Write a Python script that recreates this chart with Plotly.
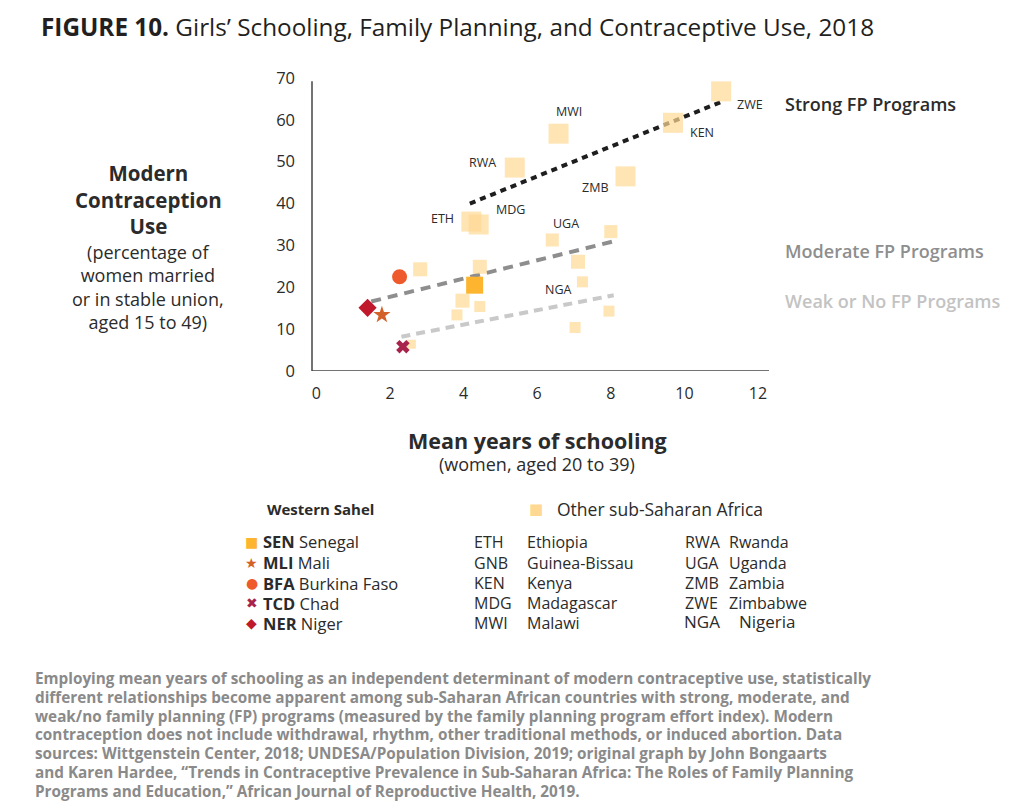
import plotly.graph_objects as go

# ---------------- data ----------------
other_codes = ["ZWE", "KEN", "MWI", "RWA", "ZMB", "ETH", "MDG", "UGA", "", "", "",
               "", "", "", "", "", "", "", ""]
other_x = [11.0, 9.69, 6.58, 5.39, 8.40, 4.21, 4.41, 6.41, 8.00, 2.82, 4.44,
           7.11, 7.23, 3.97, 4.44, 3.82, 7.95, 7.03, 2.58]
other_y = [66.8, 59.3, 56.7, 48.6, 46.5, 35.7, 35.0, 31.3, 33.3, 24.3, 24.9,
           26.1, 21.3, 16.8, 15.4, 13.4, 14.3, 10.4, 6.4]
other_size = [20, 20, 20, 20, 20, 20, 20, 13, 13, 14, 14,
              14, 11, 14, 11, 11, 11, 11, 9]

sahel_codes = ["SEN", "MLI", "BFA", "TCD", "NER"]
sahel_names = ["Senegal", "Mali", "Burkina Faso", "Chad", "Niger"]
sahel_x = [4.30, 1.78, 2.26, 2.35, 1.39]
sahel_y = [20.5, 13.4, 22.5, 5.8, 15.1]

# fitted lines (endpoints of each regression segment)
strong_x, strong_y = [4.17, 11.0], [40.0, 64.3]
moderate_x, moderate_y = [1.49, 8.04], [16.6, 30.9]
weak_x, weak_y = [2.31, 8.08], [8.2, 18.1]

# point labels
label_text = ["ZWE", "KEN", "MWI", "RWA", "ZMB", "MDG", "ETH", "UGA", "NGA"]
label_x = [11.79, 10.47, 6.86, 4.50, 7.57, 5.27, 3.44, 6.77, 6.57]
label_y = [63.7, 57.0, 61.9, 49.8, 43.8, 38.7, 36.4, 35.3, 19.5]

x_ticks = [0, 2, 4, 6, 8, 10, 12]
y_ticks = [0, 10, 20, 30, 40, 50, 60, 70]

key_col2 = [("ETH", "Ethiopia"), ("GNB", "Guinea-Bissau"), ("KEN", "Kenya"),
            ("MDG", "Madagascar"), ("MWI", "Malawi")]
key_col3 = [("RWA", "Rwanda"), ("UGA", "Uganda"), ("ZMB", "Zambia"),
            ("ZWE", "Zimbabwe"), ("NGA", "Nigeria")]

foot_lines = [
    "Employing mean years of schooling as an independent determinant of modern contraceptive use, statistically",
    "different relationships become apparent among sub-Saharan African countries with strong, moderate, and",
    "weak/no family planning (FP) programs (measured by the family planning program effort index). Modern",
    "contraception does not include withdrawal, rhythm, other traditional methods, or induced abortion. Data",
    "sources: Wittgenstein Center, 2018; UNDESA/Population Division, 2019; original graph by John Bongaarts",
    "and Karen Hardee, \u201cTrends in Contraceptive Prevalence in Sub-Saharan Africa: The Roles of Family Planning",
    "Programs and Education,\u201d African Journal of Reproductive Health, 2019.",
]

# ---------------- styles ----------------
FONT = "Open Sans"
DARK = "#2b2b2b"
C_OTHER = "#FFD994"
sahel_colors = ["#FDB52F", "#D2622A", "#EE5A2B", "#A8234B", "#C0192B"]
sahel_symbols = ["square", "star", "circle", "x", "diamond"]
sahel_sizes = [17, 13, 15, 12, 14]
sahel_glyphs = ["■", "★", "●", "✖", "◆"]

OFF = 8  # page offset of the figure (body margin)
W, H = 1016, 800
PL, PR = 312, 769.5          # page x of plot left/right
Y0, Y70 = 371, 371 - 70 * 4.19  # page y of value 0 / 70
PW, PH = PR - PL, Y0 - Y70


def px(x):
    return (x - PL) / PW


def py(y):
    return (Y0 - y) / PH


fig = go.Figure()

for xs, ys, col, dash in [(weak_x, weak_y, "#C9C9C9", "9px,6px"),
                          (moderate_x, moderate_y, "#8E8E8E", "10px,7px"),
                          (strong_x, strong_y, "#1E1E1E", "6px,5px")]:
    fig.add_trace(go.Scatter(x=xs, y=ys, mode="lines", showlegend=False,
                             line=dict(color=col, width=4, dash=dash),
                             hoverinfo="skip"))

fig.add_trace(go.Scatter(x=other_x, y=other_y, mode="markers", name="Other sub-Saharan Africa",
                         text=other_codes, showlegend=False,
                         marker=dict(symbol="square", color=C_OTHER, size=other_size,
                                     line=dict(width=0))))

for i in range(len(sahel_codes)):
    fig.add_trace(go.Scatter(x=[sahel_x[i]], y=[sahel_y[i]], mode="markers",
                             name=sahel_codes[i], showlegend=False,
                             marker=dict(symbol=sahel_symbols[i], color=sahel_colors[i],
                                         size=sahel_sizes[i], line=dict(width=0))))

ann = []
for t, x, y in zip(label_text, label_x, label_y):
    ann.append(dict(x=x, y=y, xref="x", yref="y", text=t, showarrow=False,
                    font=dict(family=FONT, size=12.5, color=DARK)))


def page_text(x, y, text, size, color=DARK, xanchor="left", yanchor="middle", weight=None,
              family=FONT, align="left"):
    f = dict(family=family, size=size, color=color)
    if weight:
        f["weight"] = weight
    ann.append(dict(x=px(x), y=py(y), xref="paper", yref="paper", xanchor=xanchor,
                    yanchor=yanchor, text=text, showarrow=False, align=align, font=f))


# title
page_text(39, 26, "<b>FIGURE 10.</b> Girls\u2019 Schooling, Family Planning, and Contraceptive Use, 2018",
          24.3, color="#231f20")

# y axis title
page_text(148, 199.5, "<b>Modern<br>Contraception<br>Use</b>", 20.5, xanchor="center", align="center")
page_text(148, 287, "(percentage of<br>women married<br>or in stable union,<br>aged 15 to 49)", 18,
          xanchor="center", align="center")

# x axis title
page_text(537.5, 440.5, "<b>Mean years of schooling</b>", 21.5, xanchor="center")
page_text(537.5, 464, "(women, aged 20 to 39)", 18, xanchor="center")

# line labels
for t, yy, col in [("Strong FP Programs", 103.3, "#2b2b2b"),
                   ("Moderate FP Programs", 250.7, "#8E8E8E"),
                   ("Weak or No FP Programs", 300.7, "#C3C3C3")]:
    page_text(784, yy, t, 18, color=col, weight=600)

# legend block
page_text(265, 509, "<b>Western Sahel</b>", 15)
page_text(536.7, 509, "■", 15, color=C_OTHER, xanchor="center", family="DejaVu Sans")
page_text(555.5, 509, "Other sub-Saharan Africa", 17.5)

rows = [541.7, 562.7, 583.3, 603.3, 623.3]
for i, yy in enumerate(rows):
    page_text(251.7, yy, sahel_glyphs[i], 14, color=sahel_colors[i], xanchor="center",
              family="DejaVu Sans")
    page_text(261, yy, "<b>" + sahel_codes[i] + "</b> " + sahel_names[i], 16.5)
    c, n = key_col2[i]
    page_text(472, yy, c, 16)
    page_text(525.5, yy, n, 16)
    c, n = key_col3[i]
    if c == "NGA":
        page_text(682, 622, c, 17)
        page_text(737, 622, n, 17)
    else:
        page_text(683, yy, c, 16)
        page_text(727.5, yy, n, 16)

# footnote (one annotation per line to match the reference line spacing)
for i, line in enumerate(foot_lines):
    page_text(33, 678.3 + i * 18.8, "<b>" + line + "</b>", 15.3, color="#8A8A8A")

# axis lines drawn as segments (vertical one stops just below 70)
shapes = [
    dict(type="line", xref="paper", yref="y", x0=0, x1=0, y0=0, y1=69.2,
         line=dict(color="#444", width=1.5)),
    dict(type="line", xref="paper", yref="y", x0=0, x1=1, y0=0, y1=0,
         line=dict(color="#444", width=1.5)),
]

fig.update_layout(
    width=W, height=H,
    margin=dict(l=PL - OFF, r=W - (PR - OFF), t=Y70 - OFF, b=H - (Y0 - OFF), pad=0),
    paper_bgcolor="white", plot_bgcolor="white",
    showlegend=False,
    annotations=ann,
    shapes=shapes,
    xaxis=dict(range=[-0.12, 12.3], tickvals=x_ticks, showgrid=False, zeroline=False,
               showline=False, ticks="", ticklabelstandoff=11,
               tickfont=dict(family=FONT, size=16, color=DARK)),
    yaxis=dict(range=[0, 70], tickvals=y_ticks, showgrid=False, zeroline=False,
               showline=False, ticks="", ticklabelstandoff=16,
               tickfont=dict(family=FONT, size=16.5, color=DARK)),
)

fig.write_html("out.html")
